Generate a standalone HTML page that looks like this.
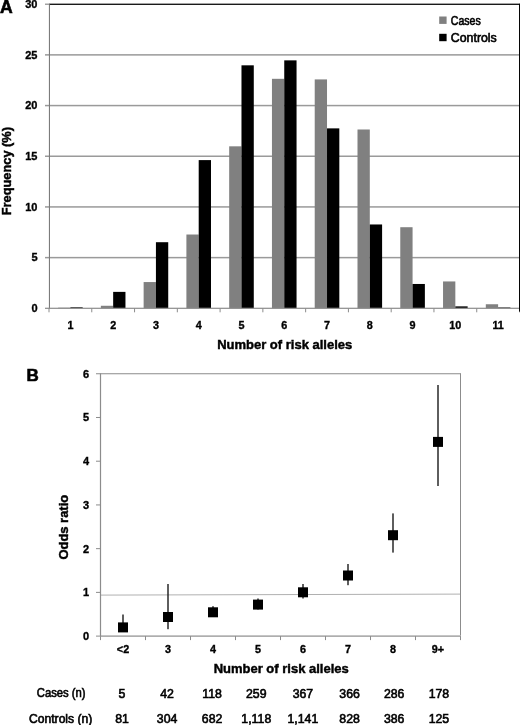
<!DOCTYPE html>
<html><head><meta charset="utf-8"><style>
html,body{margin:0;padding:0;background:#fff;}
body{width:520px;height:725px;overflow:hidden;}
svg{display:block;font-family:"Liberation Sans", sans-serif;filter:grayscale(1);}
.b{stroke:#000;stroke-width:0.35px;}
.r{stroke:#000;stroke-width:0.6px;}
.t{stroke:#000;stroke-width:0.45px;}
.p{stroke:#000;stroke-width:0.6px;}
</style></head><body>
<svg width="520" height="725" viewBox="0 0 520 725" font-family='"Liberation Sans", sans-serif' fill="#000">
<rect x="45.0" y="256.87" width="474.5" height="1.5" fill="#9a9a9a"/>
<rect x="45.0" y="206.18" width="474.5" height="1.5" fill="#9a9a9a"/>
<rect x="45.0" y="155.50" width="474.5" height="1.5" fill="#9a9a9a"/>
<rect x="45.0" y="104.82" width="474.5" height="1.5" fill="#9a9a9a"/>
<rect x="45.0" y="54.13" width="474.5" height="1.5" fill="#9a9a9a"/>
<rect x="45.0" y="3.60" width="4" height="1.2" fill="#8c8c8c"/>
<rect x="49.0" y="3.6" width="470.5" height="1.4" fill="#1a1a1a"/>
<rect x="58.09" y="307.69" width="12.3" height="0.61" fill="#808080"/>
<rect x="70.39" y="307.29" width="12.3" height="1.01" fill="#000"/>
<rect x="100.86" y="305.77" width="12.3" height="2.53" fill="#808080"/>
<rect x="113.16" y="291.88" width="12.3" height="16.42" fill="#000"/>
<rect x="143.63" y="282.05" width="12.3" height="26.25" fill="#808080"/>
<rect x="155.93" y="242.21" width="12.3" height="66.09" fill="#000"/>
<rect x="186.40" y="234.51" width="12.3" height="73.79" fill="#808080"/>
<rect x="198.70" y="160.10" width="12.3" height="148.20" fill="#000"/>
<rect x="229.18" y="146.32" width="12.3" height="161.98" fill="#808080"/>
<rect x="241.48" y="65.32" width="12.3" height="242.98" fill="#000"/>
<rect x="271.95" y="78.81" width="12.3" height="229.49" fill="#808080"/>
<rect x="284.25" y="60.36" width="12.3" height="247.94" fill="#000"/>
<rect x="314.72" y="79.41" width="12.3" height="228.89" fill="#808080"/>
<rect x="327.02" y="128.37" width="12.3" height="179.93" fill="#000"/>
<rect x="357.50" y="129.49" width="12.3" height="178.81" fill="#808080"/>
<rect x="369.80" y="224.47" width="12.3" height="83.83" fill="#000"/>
<rect x="400.27" y="227.21" width="12.3" height="81.09" fill="#808080"/>
<rect x="412.57" y="283.97" width="12.3" height="24.33" fill="#000"/>
<rect x="443.04" y="281.44" width="12.3" height="26.86" fill="#808080"/>
<rect x="455.34" y="306.37" width="12.3" height="1.93" fill="#000"/>
<rect x="485.81" y="304.25" width="12.3" height="4.05" fill="#808080"/>
<rect x="498.11" y="307.49" width="12.3" height="0.81" fill="#000"/>
<rect x="45.0" y="307.70" width="4" height="1.2" fill="#8c8c8c"/>
<rect x="48.9" y="4.2" width="1.1" height="304.70" fill="#7c7c7c"/>
<rect x="49.0" y="307.70" width="470.5" height="1.2" fill="#8c8c8c"/>
<rect x="48.50" y="308.3" width="1" height="4" fill="#8c8c8c"/>
<rect x="91.27" y="308.3" width="1" height="4" fill="#8c8c8c"/>
<rect x="134.05" y="308.3" width="1" height="4" fill="#8c8c8c"/>
<rect x="176.82" y="308.3" width="1" height="4" fill="#8c8c8c"/>
<rect x="219.59" y="308.3" width="1" height="4" fill="#8c8c8c"/>
<rect x="262.36" y="308.3" width="1" height="4" fill="#8c8c8c"/>
<rect x="305.14" y="308.3" width="1" height="4" fill="#8c8c8c"/>
<rect x="347.91" y="308.3" width="1" height="4" fill="#8c8c8c"/>
<rect x="390.68" y="308.3" width="1" height="4" fill="#8c8c8c"/>
<rect x="433.45" y="308.3" width="1" height="4" fill="#8c8c8c"/>
<rect x="476.23" y="308.3" width="1" height="4" fill="#8c8c8c"/>
<rect x="519.00" y="308.3" width="1" height="4" fill="#8c8c8c"/>
<rect x="519" y="3.6" width="1" height="307.90" fill="#050505"/>
<text x="37.5" y="312.10" text-anchor="end" font-weight="bold" font-size="11" class="b">0</text>
<text x="37.5" y="261.42" text-anchor="end" font-weight="bold" font-size="11" class="b">5</text>
<text x="37.5" y="210.73" text-anchor="end" font-weight="bold" font-size="11" class="b">10</text>
<text x="37.5" y="160.05" text-anchor="end" font-weight="bold" font-size="11" class="b">15</text>
<text x="37.5" y="109.37" text-anchor="end" font-weight="bold" font-size="11" class="b">20</text>
<text x="37.5" y="58.68" text-anchor="end" font-weight="bold" font-size="11" class="b">25</text>
<text x="37.5" y="8.00" text-anchor="end" font-weight="bold" font-size="11" class="b">30</text>
<text x="70.39" y="329" text-anchor="middle" font-weight="bold" font-size="10.8" class="b">1</text>
<text x="113.16" y="329" text-anchor="middle" font-weight="bold" font-size="10.8" class="b">2</text>
<text x="155.93" y="329" text-anchor="middle" font-weight="bold" font-size="10.8" class="b">3</text>
<text x="198.70" y="329" text-anchor="middle" font-weight="bold" font-size="10.8" class="b">4</text>
<text x="241.48" y="329" text-anchor="middle" font-weight="bold" font-size="10.8" class="b">5</text>
<text x="284.25" y="329" text-anchor="middle" font-weight="bold" font-size="10.8" class="b">6</text>
<text x="327.02" y="329" text-anchor="middle" font-weight="bold" font-size="10.8" class="b">7</text>
<text x="369.80" y="329" text-anchor="middle" font-weight="bold" font-size="10.8" class="b">8</text>
<text x="412.57" y="329" text-anchor="middle" font-weight="bold" font-size="10.8" class="b">9</text>
<text x="455.34" y="329" text-anchor="middle" font-weight="bold" font-size="10.8" class="b">10</text>
<text x="498.11" y="329" text-anchor="middle" font-weight="bold" font-size="10.8" class="b">11</text>
<text x="0.1" y="13.1" font-weight="bold" font-size="17.6" class="p">A</text>
<text x="217.2" y="349.2" font-weight="bold" font-size="13.2" class="t" textLength="135" lengthAdjust="spacingAndGlyphs">Number of risk alleles</text>
<text transform="translate(10.8,215.3) rotate(-90)" x="0" y="0" font-weight="bold" font-size="13.4" class="t" textLength="88.3" lengthAdjust="spacingAndGlyphs">Frequency (%)</text>
<rect x="439.2" y="16.5" width="7.4" height="7.4" fill="#808080"/>
<rect x="439.2" y="33.8" width="7.4" height="7.4" fill="#000"/>
<text x="450.8" y="24.6" font-size="12" class="r" textLength="30" lengthAdjust="spacingAndGlyphs">Cases</text>
<text x="450.8" y="41.6" font-size="12" class="r" textLength="46" lengthAdjust="spacingAndGlyphs">Controls</text>
<line x1="100.5" y1="595.1" x2="460.5" y2="594.1" stroke="#b0b0b0" stroke-width="1"/>
<rect x="100.5" y="373.25" width="360.0" height="1" fill="#8c8c8c"/>
<rect x="460.0" y="373.25" width="1" height="262.35" fill="#8c8c8c"/>
<rect x="99.9" y="373.25" width="1.2" height="262.85" fill="#8c8c8c"/>
<rect x="100.5" y="635.5" width="360.0" height="1.2" fill="#8c8c8c"/>
<rect x="96.0" y="635.60" width="4.5" height="1" fill="#8c8c8c"/>
<text x="89" y="640.00" text-anchor="end" font-weight="bold" font-size="11" class="b">0</text>
<rect x="96.0" y="591.88" width="4.5" height="1" fill="#8c8c8c"/>
<text x="89" y="596.27" text-anchor="end" font-weight="bold" font-size="11" class="b">1</text>
<rect x="96.0" y="548.15" width="4.5" height="1" fill="#8c8c8c"/>
<text x="89" y="552.55" text-anchor="end" font-weight="bold" font-size="11" class="b">2</text>
<rect x="96.0" y="504.43" width="4.5" height="1" fill="#8c8c8c"/>
<text x="89" y="508.82" text-anchor="end" font-weight="bold" font-size="11" class="b">3</text>
<rect x="96.0" y="460.70" width="4.5" height="1" fill="#8c8c8c"/>
<text x="89" y="465.10" text-anchor="end" font-weight="bold" font-size="11" class="b">4</text>
<rect x="96.0" y="416.98" width="4.5" height="1" fill="#8c8c8c"/>
<text x="89" y="421.38" text-anchor="end" font-weight="bold" font-size="11" class="b">5</text>
<rect x="96.0" y="373.25" width="4.5" height="1" fill="#8c8c8c"/>
<text x="89" y="377.65" text-anchor="end" font-weight="bold" font-size="11" class="b">6</text>
<rect x="100.00" y="636.1" width="1" height="4" fill="#8c8c8c"/>
<rect x="145.00" y="636.1" width="1" height="4" fill="#8c8c8c"/>
<rect x="190.00" y="636.1" width="1" height="4" fill="#8c8c8c"/>
<rect x="235.00" y="636.1" width="1" height="4" fill="#8c8c8c"/>
<rect x="280.00" y="636.1" width="1" height="4" fill="#8c8c8c"/>
<rect x="325.00" y="636.1" width="1" height="4" fill="#8c8c8c"/>
<rect x="370.00" y="636.1" width="1" height="4" fill="#8c8c8c"/>
<rect x="415.00" y="636.1" width="1" height="4" fill="#8c8c8c"/>
<rect x="460.00" y="636.1" width="1" height="4" fill="#8c8c8c"/>
<rect x="122.30" y="614.5" width="1.4" height="17.50" fill="#1a1a1a"/>
<rect x="118.00" y="622.40" width="10" height="10" fill="#000"/>
<text x="123.00" y="652.6" text-anchor="middle" font-weight="bold" font-size="10.8" class="b">&lt;2</text>
<rect x="167.30" y="584" width="1.4" height="45.20" fill="#1a1a1a"/>
<rect x="163.00" y="612.00" width="10" height="10" fill="#000"/>
<text x="168.00" y="652.6" text-anchor="middle" font-weight="bold" font-size="10.8" class="b">3</text>
<rect x="212.30" y="606.2" width="1.4" height="10.80" fill="#1a1a1a"/>
<rect x="208.00" y="607.30" width="10" height="10" fill="#000"/>
<text x="213.00" y="652.6" text-anchor="middle" font-weight="bold" font-size="10.8" class="b">4</text>
<rect x="257.30" y="598.5" width="1.4" height="11.00" fill="#1a1a1a"/>
<rect x="253.00" y="599.60" width="10" height="10" fill="#000"/>
<text x="258.00" y="652.6" text-anchor="middle" font-weight="bold" font-size="10.8" class="b">5</text>
<rect x="302.30" y="584" width="1.4" height="14.50" fill="#1a1a1a"/>
<rect x="298.00" y="587.30" width="10" height="10" fill="#000"/>
<text x="303.00" y="652.6" text-anchor="middle" font-weight="bold" font-size="10.8" class="b">6</text>
<rect x="347.30" y="564" width="1.4" height="21.20" fill="#1a1a1a"/>
<rect x="343.00" y="570.50" width="10" height="10" fill="#000"/>
<text x="348.00" y="652.6" text-anchor="middle" font-weight="bold" font-size="10.8" class="b">7</text>
<rect x="392.30" y="513.4" width="1.4" height="39.20" fill="#1a1a1a"/>
<rect x="388.00" y="530.20" width="10" height="10" fill="#000"/>
<text x="393.00" y="652.6" text-anchor="middle" font-weight="bold" font-size="10.8" class="b">8</text>
<rect x="437.30" y="385" width="1.4" height="101.00" fill="#1a1a1a"/>
<rect x="433.00" y="436.90" width="10" height="10" fill="#000"/>
<text x="438.00" y="652.6" text-anchor="middle" font-weight="bold" font-size="10.8" class="b">9+</text>
<text x="26.4" y="381.4" font-weight="bold" font-size="17" class="p">B</text>
<text transform="translate(68.4,559.6) rotate(-90)" x="0" y="0" font-weight="bold" font-size="13.4" class="t" textLength="64.8" lengthAdjust="spacingAndGlyphs">Odds ratio</text>
<text x="213.7" y="673.1" font-weight="bold" font-size="13.2" class="t" textLength="135" lengthAdjust="spacingAndGlyphs">Number of risk alleles</text>
<text x="36.8" y="697.4" font-size="12" class="r" textLength="48.8" lengthAdjust="spacingAndGlyphs">Cases (n)</text>
<text x="29" y="722.9" font-size="12" class="r" textLength="63.3" lengthAdjust="spacingAndGlyphs">Controls (n)</text>
<text x="122.00" y="697.5" text-anchor="middle" font-size="12.3" class="r">5</text>
<text x="122.00" y="723" text-anchor="middle" font-size="12.3" class="r">81</text>
<text x="167.10" y="697.5" text-anchor="middle" font-size="12.3" class="r">42</text>
<text x="167.10" y="723" text-anchor="middle" font-size="12.3" class="r">304</text>
<text x="212.10" y="697.5" text-anchor="middle" font-size="12.3" class="r">118</text>
<text x="212.10" y="723" text-anchor="middle" font-size="12.3" class="r">682</text>
<text x="256.30" y="697.5" text-anchor="middle" font-size="12.3" class="r">259</text>
<text x="256.30" y="723" text-anchor="middle" font-size="12.3" class="r">1,118</text>
<text x="302.90" y="697.5" text-anchor="middle" font-size="12.3" class="r">367</text>
<text x="302.90" y="723" text-anchor="middle" font-size="12.3" class="r">1,141</text>
<text x="349.60" y="697.5" text-anchor="middle" font-size="12.3" class="r">366</text>
<text x="349.60" y="723" text-anchor="middle" font-size="12.3" class="r">828</text>
<text x="394.20" y="697.5" text-anchor="middle" font-size="12.3" class="r">286</text>
<text x="394.20" y="723" text-anchor="middle" font-size="12.3" class="r">386</text>
<text x="438.90" y="697.5" text-anchor="middle" font-size="12.3" class="r">178</text>
<text x="438.90" y="723" text-anchor="middle" font-size="12.3" class="r">125</text>
</svg>
</body></html>
